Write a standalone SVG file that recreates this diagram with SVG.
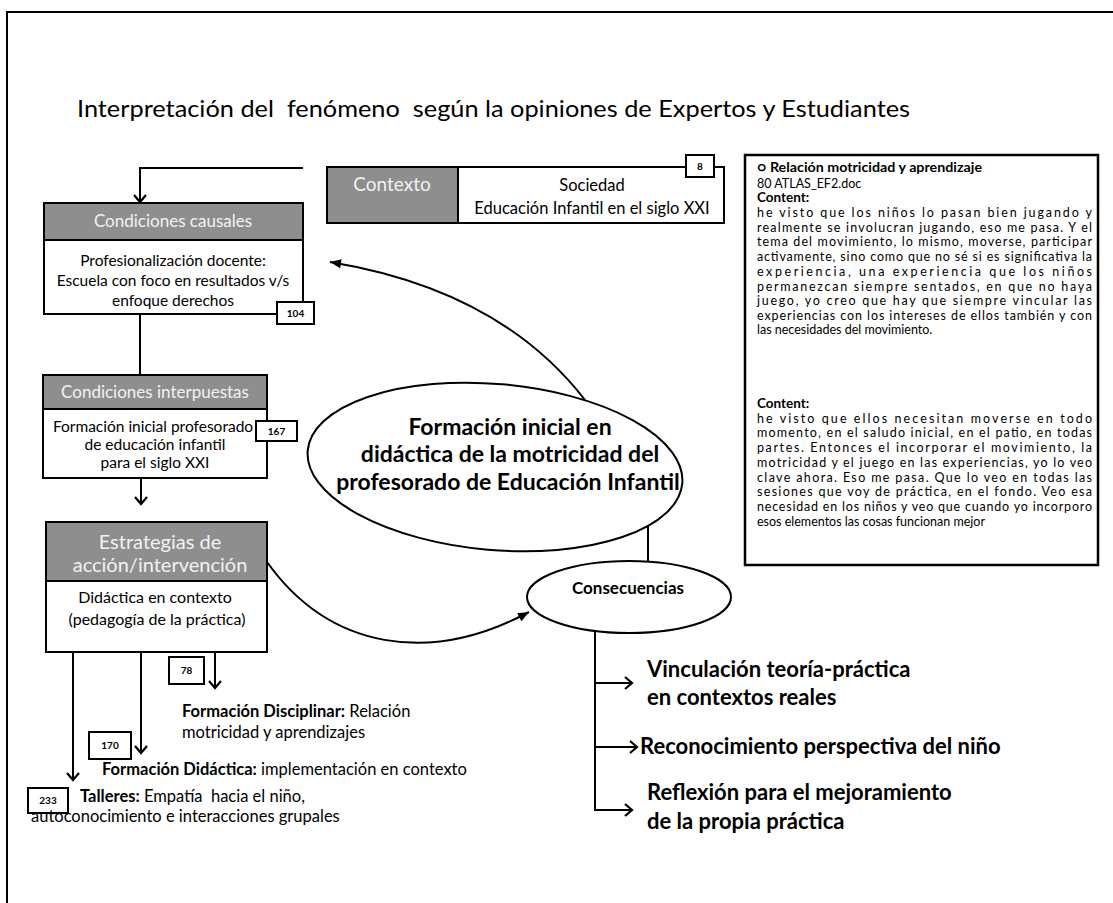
<svg xmlns="http://www.w3.org/2000/svg" width="1113" height="903" viewBox="0 0 1113 903">
<defs>
<style>
text{font-family:Lato,"Open Sans","Liberation Sans",sans-serif;fill:#000}
.hdr{fill:#8e8e8e;stroke:#000;stroke-width:2}
.box{fill:#fff;stroke:#000;stroke-width:2}
.ht{fill:#f2f2f2;text-anchor:middle}
.c{text-anchor:middle}
.b{font-weight:bold}
.badge{fill:#fff;stroke:#000;stroke-width:2}
.bt{font-size:10px;font-weight:bold;text-anchor:middle}
.ln{fill:none;stroke:#000;stroke-width:2}
.q{font-size:12.5px}
.qb{font-size:13.5px;font-weight:bold}
.big{font-size:23px;font-weight:bold;text-anchor:middle}
.cons{font-size:22px;font-weight:bold}
.lab{font-size:16.5px}
</style>
<marker id="chev" viewBox="-10 -8 12 16" markerWidth="12" markerHeight="16" refX="0" refY="0" markerUnits="userSpaceOnUse" orient="auto">
<path d="M-7,-6 L0,0 L-7,6" fill="none" stroke="#000" stroke-width="2.2"/>
</marker>
<marker id="tri" viewBox="-12 -6 13 12" markerWidth="13" markerHeight="12" refX="0" refY="0" markerUnits="userSpaceOnUse" orient="auto">
<path d="M-11,-4.5 L0,0 L-11,4.5 Z" fill="#000"/>
</marker>
</defs>
<rect x="0" y="0" width="1113" height="903" fill="#fff"/>
<rect x="7" y="12" width="1200" height="1000" fill="none" stroke="#000" stroke-width="2"/>
<text x="77" y="117" font-size="23" textLength="833" lengthAdjust="spacingAndGlyphs">Interpretación del&#160; fenómeno&#160; según la opiniones de Expertos y Estudiantes</text>

<g id="connectors">
<path class="ln" d="M303,168 H140 V202" marker-end="url(#chev)"/>
<path class="ln" d="M140,314 V375"/>
<path class="ln" d="M141,478 V504" marker-end="url(#chev)"/>
<path class="ln" d="M585,400 Q500,290 330,262" marker-end="url(#tri)"/>
<path class="ln" d="M648,520 V575"/>
<path class="ln" d="M267,562 C330,650 430,665 529,612" marker-end="url(#tri)"/>
<path class="ln" d="M73,652 V780" marker-end="url(#chev)"/>
<path class="ln" d="M141,652 V753" marker-end="url(#chev)"/>
<path class="ln" d="M215,652 V688" marker-end="url(#chev)"/>
<path class="ln" d="M595,620 V810 H632"/>
<path class="ln" d="M595,683 H632" marker-end="url(#chev)"/>
<path class="ln" d="M595,747 H637" marker-end="url(#chev)"/>
<path class="ln" d="M612,810 H632" marker-end="url(#chev)"/>
</g>

<g id="condiciones-causales">
<rect class="hdr" x="44" y="203" width="259" height="37"/>
<rect class="box" x="44" y="240" width="259" height="74"/>
<text class="ht" x="173" y="227" font-size="17">Condiciones causales</text>
<text class="c" x="173" y="266" font-size="15.5">Profesionalización docente:</text>
<text class="c" x="173" y="286" font-size="15.5">Escuela con foco en resultados v/s</text>
<text class="c" x="173" y="306" font-size="15.5">enfoque derechos</text>
<rect class="badge" x="277" y="302" width="37" height="22"/>
<text class="bt" x="295.5" y="317">104</text>
</g>

<g id="contexto">
<rect class="hdr" x="327" y="167" width="131" height="56"/>
<rect class="box" x="458" y="167" width="266" height="56"/>
<text class="ht" x="392" y="191" font-size="19">Contexto</text>
<text class="c" x="592" y="191" font-size="16.5">Sociedad</text>
<text class="c" x="592" y="214" font-size="16.5">Educación Infantil en el siglo XXI</text>
<rect class="badge" x="686" y="155" width="28" height="22"/>
<text class="bt" x="700" y="170">8</text>
</g>

<g id="condiciones-interpuestas">
<rect class="hdr" x="43" y="375" width="224" height="34"/>
<rect class="box" x="43" y="409" width="224" height="69"/>
<text class="ht" x="155" y="398" font-size="17">Condiciones interpuestas</text>
<text class="c" x="153" y="432" font-size="15.5">Formación inicial profesorado</text>
<text class="c" x="155" y="450" font-size="15.5">de educación infantil</text>
<text class="c" x="155" y="468" font-size="15.5">para el siglo XXI</text>
<rect class="badge" x="256" y="421" width="41" height="20"/>
<text class="bt" x="276.5" y="435">167</text>
</g>

<g id="estrategias">
<rect class="hdr" x="46" y="522" width="221" height="59"/>
<rect class="box" x="46" y="581" width="221" height="71"/>
<text class="ht" x="160" y="549" font-size="20">Estrategias de</text>
<text class="ht" x="160" y="572" font-size="20">acción/intervención</text>
<text class="c" x="155" y="603" font-size="16">Didáctica en contexto</text>
<text class="c" x="157" y="625" font-size="16">(pedagogía de la práctica)</text>
</g>

<g id="formacion-disciplinar">
<rect class="badge" x="169" y="657" width="35" height="27"/>
<text class="bt" x="186.5" y="674">78</text>
<text class="lab" x="182" y="717"><tspan class="b">Formación Disciplinar:</tspan> Relación</text>
<text class="lab" x="182" y="738">motricidad y aprendizajes</text>
</g>

<g id="formacion-didactica">
<rect class="badge" x="89" y="732" width="42" height="27"/>
<text class="bt" x="110" y="749">170</text>
<text class="lab" x="102" y="775"><tspan class="b">Formación Didáctica:</tspan> implementación en contexto</text>
</g>

<g id="talleres">
<rect class="badge" x="28" y="788" width="40" height="25"/>
<text class="bt" x="48" y="804">233</text>
<text class="lab" x="80" y="802"><tspan class="b">Talleres:</tspan> Empatía&#160; hacia el niño,</text>
<text class="lab" x="31" y="822">autoconocimiento e interacciones grupales</text>
</g>

<g id="fenomeno">
<ellipse cx="495" cy="467" rx="188" ry="83" fill="#fff" stroke="#000" stroke-width="2" transform="rotate(5 495 467)"/>
<text class="big" x="510" y="435">Formación inicial en</text>
<text class="big" x="510" y="462">didáctica de la motricidad del</text>
<text class="big" x="508" y="490">profesorado de Educación Infantil</text>
</g>

<g id="consecuencias">
<ellipse cx="629" cy="597" rx="102" ry="36" fill="#fff" stroke="#000" stroke-width="2"/>
<text class="c b" x="628" y="594" font-size="17">Consecuencias</text>
</g>

<g id="resultados">
<text class="cons" x="647" y="677">Vinculación teoría-práctica</text>
<text class="cons" x="647" y="705">en contextos reales</text>
<text class="cons" x="640" y="754">Reconocimiento perspectiva del niño</text>
<text class="cons" x="647" y="800">Reflexión para el mejoramiento</text>
<text class="cons" x="647" y="829">de la propia práctica</text>
</g>

<g id="cita">
<rect x="745" y="155" width="353" height="410" fill="#fff" stroke="#000" stroke-width="2.5"/>
<text class="qb" x="757" y="172" textLength="225" lengthAdjust="spacingAndGlyphs">○ Relación motricidad y aprendizaje</text>
<text class="q" x="757" y="188">80 ATLAS_EF2.doc</text>
<text class="qb" x="757" y="202">Content:</text>
<text class="q" x="757" y="217" textLength="335" lengthAdjust="spacing">he visto que los niños lo pasan bien jugando y</text>
<text class="q" x="757" y="232" textLength="335" lengthAdjust="spacing">realmente se involucran jugando, eso me pasa. Y el</text>
<text class="q" x="757" y="246" textLength="335" lengthAdjust="spacing">tema del movimiento, lo mismo, moverse, participar</text>
<text class="q" x="757" y="261" textLength="335" lengthAdjust="spacing">activamente, sino como que no sé si es significativa la</text>
<text class="q" x="757" y="276" textLength="335" lengthAdjust="spacing">experiencia, una experiencia que los niños</text>
<text class="q" x="757" y="291" textLength="335" lengthAdjust="spacing">permanezcan siempre sentados, en que no haya</text>
<text class="q" x="757" y="305" textLength="335" lengthAdjust="spacing">juego, yo creo que hay que siempre vincular las</text>
<text class="q" x="757" y="320" textLength="335" lengthAdjust="spacing">experiencias con los intereses de ellos también y con</text>
<text class="q" x="757" y="334">las necesidades del movimiento.</text>
<text class="qb" x="757" y="408">Content:</text>
<text class="q" x="757" y="423" textLength="335" lengthAdjust="spacing">he visto que ellos necesitan moverse en todo</text>
<text class="q" x="757" y="437" textLength="335" lengthAdjust="spacing">momento, en el saludo inicial, en el patio, en todas</text>
<text class="q" x="757" y="452" textLength="335" lengthAdjust="spacing">partes. Entonces el incorporar el movimiento, la</text>
<text class="q" x="757" y="467" textLength="335" lengthAdjust="spacing">motricidad y el juego en las experiencias, yo lo veo</text>
<text class="q" x="757" y="482" textLength="335" lengthAdjust="spacing">clave ahora. Eso me pasa. Que lo veo en todas las</text>
<text class="q" x="757" y="496" textLength="335" lengthAdjust="spacing">sesiones que voy de práctica, en el fondo. Veo esa</text>
<text class="q" x="757" y="511" textLength="335" lengthAdjust="spacing">necesidad en los niños y veo que cuando yo incorporo</text>
<text class="q" x="757" y="526">esos elementos las cosas funcionan mejor</text>
</g>
</svg>
